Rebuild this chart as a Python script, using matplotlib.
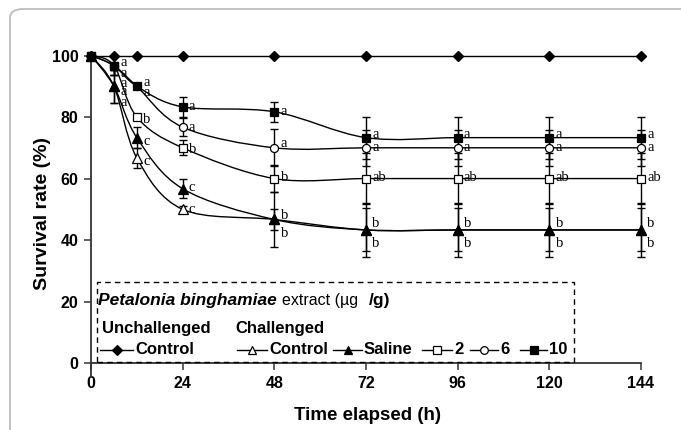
import matplotlib
matplotlib.use("Agg")
import matplotlib.pyplot as plt
from matplotlib.path import Path
from matplotlib.patches import PathPatch, FancyBboxPatch, Rectangle
from matplotlib.lines import Line2D

plt.rcParams['font.family'] = ['Liberation Sans', 'DejaVu Sans']

# sampling times (h)
times = [0, 6, 12, 24, 48, 72, 96, 120, 144]

# survival (%) per group
unchallenged = [100, 100, 100, 100, 100, 100, 100, 100, 100]
ctrl = [100, 90, 66.7, 50, 46.7, 43.3, 43.3, 43.3, 43.3]
saline = [100, 90, 73.3, 56.7, 46.7, 43.3, 43.3, 43.3, 43.3]
dose2 = [100, 96.7, 80, 70, 60, 60, 60, 60, 60]
dose6 = [100, 96.7, 90, 76.7, 70, 70, 70, 70, 70]
dose10 = [100, 96.7, 90, 83.3, 81.7, 73.3, 73.3, 73.3, 73.3]

# standard deviations
ctrl_sd = [0, 5.3, 3.3, 1, 3.3, 7, 7, 7, 7]
saline_sd = [0, 5.3, 3.3, 3, 8.8, 8.8, 8.8, 8.8, 8.8]
dose2_sd = [0, 3, 0, 2.5, 4.3, 8.2, 8.2, 8.2, 8.2]
dose6_sd = [0, 3, 0, 3, 6, 5.8, 5.8, 5.8, 5.8]
dose10_sd = [0, 3, 0, 3.2, 3.3, 6.8, 6.8, 6.8, 6.8]

# significance letters
ctrl_lab = ['', 'a', 'c', 'c', 'b', 'b', 'b', 'b', 'b']
saline_lab = ['', 'a', 'c', 'c', 'b', 'b', 'b', 'b', 'b']
dose2_lab = ['', 'a', 'b', 'b', 'b', 'ab', 'ab', 'ab', 'ab']
dose6_lab = ['', 'a', 'a', 'a', 'a', 'a', 'a', 'a', 'a']
dose10_lab = ['', 'a', 'a', 'a', 'a', 'a', 'a', 'a', 'a']

# vertical nudge of each letter (points)
ctrl_dy = [0, -11.5, -2.7, 0, -10, -9.5, -9.5, -9.5, -9.5]
saline_dy = [0, -4, -3, 1, 3, 4.3, 4.3, 4.3, 4.3]
dose2_dy = [0, -13, -1.5, -1, 1, 1, 1, 1, 1]
dose6_dy = [0, -5.5, -4.7, -0.5, 3, 0, 0, 0, 0]
dose10_dy = [0, 2.5, 2.7, 0, 0, 2.3, 2.3, 2.3, 2.3]


def smooth_path(x, y):
    # excel-like smoothed line: cubic bezier with catmull-rom tangents
    verts = [(x[0], y[0])]
    codes = [Path.MOVETO]
    n = len(x)
    for i in range(n - 1):
        a = i - 1 if i > 0 else i
        d = i + 2 if i + 2 < n else i + 1
        c1 = (x[i] + (x[i + 1] - x[a]) / 6.0, y[i] + (y[i + 1] - y[a]) / 6.0)
        c2 = (x[i + 1] - (x[d] - x[i]) / 6.0, y[i + 1] - (y[d] - y[i]) / 6.0)
        verts += [c1, c2, (x[i + 1], y[i + 1])]
        codes += [Path.CURVE4] * 3
    return Path(verts, codes)


W, H = 681, 430
fig = plt.figure(figsize=(W / 100, H / 100), dpi=100)


def fx(px):
    return px / W


def fy(py):
    return 1 - py / H


# rounded frame around the figure
fig.add_artist(FancyBboxPatch((fx(10), fy(470)), fx(720), fy(9) - fy(470),
                              boxstyle="round,pad=0,rounding_size=0.02",
                              transform=fig.transFigure, fill=False,
                              edgecolor='#bdbdbd', linewidth=1.3))

ax = fig.add_axes([fx(91), fy(377), fx(641) - fx(91), fy(55.5) - fy(377)])
ax.set_xlim(0, 144)
ax.set_ylim(-4.5, 100)

# drawn bottom to top so the filled symbols sit over the hollow ones
series = [
    (ctrl, ctrl_sd, ctrl_lab, ctrl_dy, '^', 'white', 6.5),
    (dose2, dose2_sd, dose2_lab, dose2_dy, 's', 'white', 5.5),
    (dose6, dose6_sd, dose6_lab, dose6_dy, 'o', 'white', 5.8),
    (saline, saline_sd, saline_lab, saline_dy, '^', 'black', 6.5),
    (dose10, dose10_sd, dose10_lab, dose10_dy, 's', 'black', 5.5),
]

ax.plot(times, unchallenged, color='black', lw=1, marker='D', ms=5.5,
        mfc='black', mec='black', clip_on=False, zorder=5)

for k, (vals, sd, labs, dys, mk, fc, ms) in enumerate(series):
    ax.add_patch(PathPatch(smooth_path(times, vals), fill=False,
                           edgecolor='black', lw=1, zorder=2, clip_on=False))
    ax.errorbar(times, vals, yerr=sd, fmt='none', ecolor='black',
                elinewidth=1, capsize=3, capthick=1, zorder=3, clip_on=False)
    ax.plot(times, vals, ls='none', marker=mk, ms=ms, mfc=fc, mec='black',
            mew=0.9, zorder=6 + k * 0.1, clip_on=False)
    for t, v, lab, dy in zip(times, vals, labs, dys):
        if lab:
            ax.annotate(lab, (t, v), xytext=(4.5, dy), textcoords='offset points',
                        ha='left', va='center', fontsize=10.5,
                        family='Liberation Serif', zorder=7)

ax.spines['top'].set_visible(False)
ax.spines['right'].set_visible(False)
ax.spines['bottom'].set_position(('data', 0))
for s in ('left', 'bottom'):
    ax.spines[s].set_linewidth(1.3)
    ax.spines[s].set_color('#333333')

ax.set_xticks(times[:1] + list(range(24, 145, 24)))
ax.set_yticks(range(0, 101, 20))
ax.tick_params(axis='both', direction='out', length=5, width=1.1,
               color='#333333', labelsize=11.5, pad=4)
for lbl in ax.get_xticklabels() + ax.get_yticklabels():
    lbl.set_fontweight('bold')

fig.text(fx(368), fy(415), 'Time elapsed (h)', ha='center', va='center',
         fontsize=13.5, fontweight='bold')
fig.text(fx(43), fy(213), 'Survival rate (%)', ha='center', va='center',
         rotation=90, fontsize=14, fontweight='bold')

# legend box
fig.add_artist(Rectangle((fx(97), fy(362)), fx(574) - fx(97), fy(281.5) - fy(362),
                         transform=fig.transFigure, fill=False, edgecolor='black',
                         linewidth=1, linestyle=(0, (4, 3)), zorder=8))
fig.text(fx(98), fy(301), 'Petalonia binghamiae', ha='left', va='center',
         fontsize=12.5, fontweight='bold', style='italic')
fig.text(fx(282), fy(301), 'extract (µg', ha='left', va='center', fontsize=11.5)
fig.text(fx(369), fy(301), '/g)', ha='left', va='center', fontsize=12.5,
         fontweight='bold')
fig.text(fx(102), fy(329), 'Unchallenged', ha='left', va='center',
         fontsize=12, fontweight='bold')
fig.text(fx(235), fy(329), 'Challenged', ha='left', va='center',
         fontsize=12, fontweight='bold')

legend_items = [
    (100, 133, 'D', 'black', 5, 'Control'),
    (237, 267, '^', 'white', 6, 'Control'),
    (333, 362, '^', 'black', 6, 'Saline'),
    (422, 452, 's', 'white', 5.5, '2'),
    (470, 498, 'o', 'white', 5.5, '6'),
    (520, 547, 's', 'black', 5.5, '10'),
]
for x0, x1, mk, fc, ms, name in legend_items:
    fig.add_artist(Line2D([fx(x0), fx(x1)], [fy(350), fy(350)], color='black',
                          lw=1, transform=fig.transFigure))
    fig.add_artist(Line2D([fx((x0 + x1) / 2)], [fy(350)], marker=mk, ms=ms,
                          mfc=fc, mec='black', mew=0.9, ls='none',
                          transform=fig.transFigure))
    fig.text(fx(x1 + 2), fy(350), name, ha='left', va='center', fontsize=12,
             fontweight='bold')

fig.savefig('out.png', dpi=100)
